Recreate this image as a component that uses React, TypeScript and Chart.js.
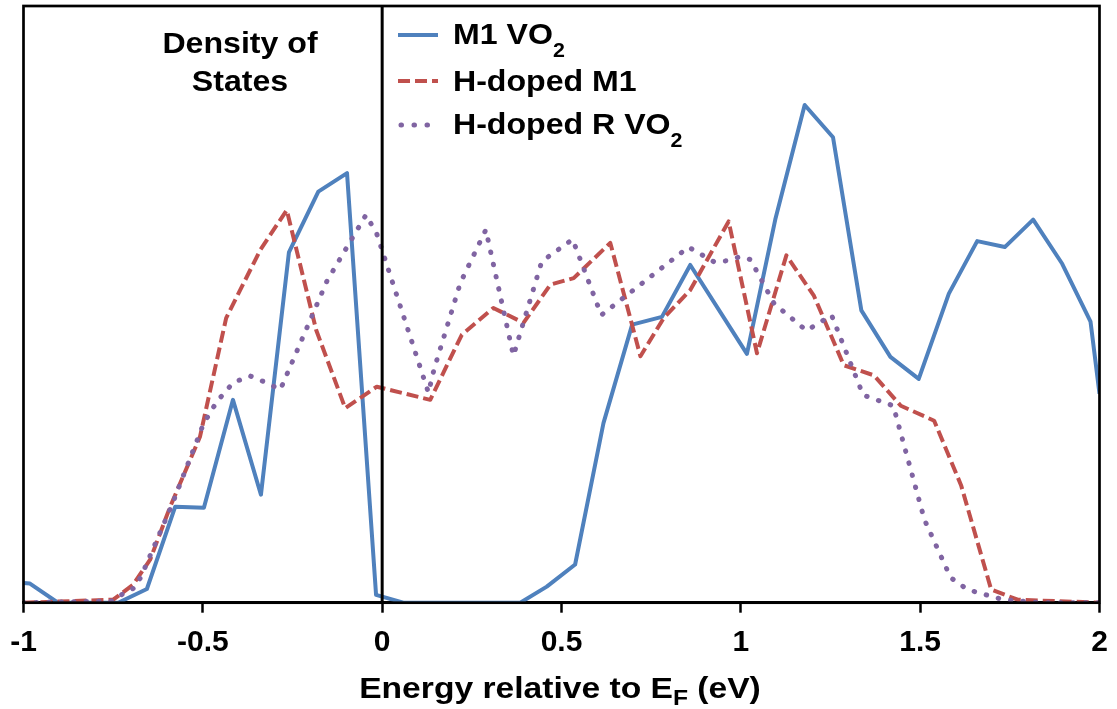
import React, { useEffect, useRef } from 'react';
import { Chart, registerables } from 'chart.js';

Chart.register(...registerables);

// Energy (eV) and density of states (arbitrary units, 0-100) for each series
const m1Energy = [-1.0, -0.982, -0.904, -0.736, -0.656, -0.577, -0.497, -0.416, -0.338, -0.26, -0.178, -0.098, -0.017, 0.059, 0.385, 0.459, 0.538, 0.617, 0.697, 0.78, 0.859, 1.017, 1.096, 1.178, 1.257, 1.336, 1.417, 1.496, 1.58, 1.659, 1.736, 1.815, 1.896, 1.975, 2.0];
const m1Dos = [3.3, 3.2, 0, 0, 2.3, 16.1, 15.9, 34.0, 18.1, 58.7, 68.9, 72.0, 1.3, 0, 0, 2.7, 6.4, 30.1, 46.6, 47.9, 56.6, 41.7, 64.2, 83.4, 78.0, 49.0, 41.2, 37.5, 51.8, 60.6, 59.6, 64.2, 56.8, 47.1, 35.0];

const hM1Energy = [-1.0, -0.75, -0.695, -0.647, -0.591, -0.508, -0.435, -0.34, -0.266, -0.184, -0.103, -0.015, 0.134, 0.222, 0.31, 0.394, 0.469, 0.534, 0.636, 0.72, 0.785, 0.859, 0.966, 1.045, 1.127, 1.204, 1.287, 1.371, 1.446, 1.539, 1.614, 1.698, 1.772, 2.0];
const hM1Dos = [0, 0.5, 3.0, 7.2, 16.1, 27.8, 47.7, 59.1, 65.8, 45.7, 32.6, 36.2, 34.0, 44.9, 49.4, 46.9, 53.3, 54.4, 60.3, 41.3, 47.7, 52.4, 63.9, 41.8, 58.2, 51.4, 39.8, 38.1, 33.0, 30.5, 19.7, 2.2, 0.5, 0];

const hREnergy = [-1.0, -0.754, -0.717, -0.69, -0.672, -0.586, -0.498, -0.461, -0.415, -0.368, -0.324, -0.284, -0.154, -0.045, -0.015, 0.129, 0.145, 0.218, 0.289, 0.366, 0.445, 0.531, 0.611, 0.854, 0.926, 0.96, 0.999, 1.027, 1.093, 1.183, 1.253, 1.341, 1.425, 1.512, 1.585, 1.632, 1.732, 1.84, 2.0];
const hRDos = [0, 0.3, 1.7, 2.5, 4.4, 16.4, 30.0, 33.7, 36.9, 38.0, 36.9, 35.7, 53.9, 65.0, 61.8, 35.2, 39.2, 53.6, 62.5, 41.4, 57.2, 60.9, 48.2, 59.6, 57.1, 57.3, 58.0, 57.5, 50.1, 45.6, 48.2, 34.8, 33.0, 13.9, 4.2, 2.2, 0.5, 0, 0];

const xTickValues = [-1, -0.5, 0, 0.5, 1, 1.5, 2];
const fermiLevel = 0;

const BLUE = '#4F81BD';
const RED = '#C0504D';
const PURPLE = '#8064A2';
const FONT = '"Liberation Sans", Arial, sans-serif';

const toPoints = (xs: number[], ys: number[]) => xs.map((x, i) => ({ x, y: ys[i] }));

const framePlugin = {
  id: 'frame',
  afterDraw(chart: any) {
    const { ctx, chartArea: a, scales } = chart;
    ctx.save();
    ctx.strokeStyle = '#000';
    // Fermi level line
    const xf = scales.x.getPixelForValue(fermiLevel);
    ctx.lineWidth = 3;
    ctx.beginPath();
    ctx.moveTo(xf, a.top);
    ctx.lineTo(xf, a.bottom);
    ctx.stroke();
    // plot frame
    ctx.lineWidth = 2.7;
    ctx.strokeRect(a.left, a.top, a.right - a.left, a.bottom - a.top);
    ctx.restore();
  },
};

export default function App() {
  const ref = useRef<HTMLCanvasElement>(null);

  useEffect(() => {
    const canvas = ref.current;
    if (!canvas) return;
    const chart = new Chart(canvas, {
      type: 'line',
      data: {
        datasets: [
          {
            label: 'M1 VO2',
            data: toPoints(m1Energy, m1Dos),
            borderColor: BLUE,
            borderWidth: 4,
            borderJoinStyle: 'round',
            pointRadius: 0,
            tension: 0,
            order: 2,
          },
          {
            label: 'H-doped M1',
            data: toPoints(hM1Energy, hM1Dos),
            borderColor: RED,
            borderWidth: 4,
            borderDash: [12, 5],
            borderJoinStyle: 'round',
            pointRadius: 0,
            tension: 0,
            order: 1,
          },
          {
            label: 'H-doped R VO2',
            data: toPoints(hREnergy, hRDos),
            borderColor: PURPLE,
            borderWidth: 5,
            borderDash: [0.5, 12],
            borderCapStyle: 'round',
            borderJoinStyle: 'round',
            pointRadius: 0,
            tension: 0,
            order: 0,
          },
        ],
      },
      options: {
        animation: false,
        responsive: false,
        maintainAspectRatio: false,
        layout: { padding: { left: 23.5, right: 17.5, top: 6, bottom: 35.3 } },
        plugins: {
          legend: { display: false },
          tooltip: { enabled: false },
        },
        scales: {
          x: {
            type: 'linear',
            min: -1,
            max: 2,
            afterBuildTicks: (scale: any) => {
              scale.ticks = xTickValues.map((v) => ({ value: v }));
            },
            afterFit: (scale: any) => {
              scale.paddingLeft = 0;
              scale.paddingRight = 0;
            },
            grid: {
              color: 'rgba(0,0,0,0)',
              tickColor: '#000',
              tickWidth: 2.5,
              tickLength: 10,
              drawTicks: true,
            },
            border: { display: true, color: '#000', width: 2.7 },
            ticks: {
              color: '#000',
              padding: 12.5,
              maxRotation: 0,
              autoSkip: false,
              font: { family: FONT, size: 30, weight: 'bold' },
              callback: (v: any) => String(v),
            },
          },
          y: {
            display: false,
            min: 0,
            max: 100,
          },
        },
      },
      plugins: [framePlugin],
    } as any);
    return () => chart.destroy();
  }, []);

  const legendRows = [
    { label: 'M1 VO', sub: '2', color: BLUE, dash: undefined, width: 4, cap: 'butt', cy: 35 },
    { label: 'H-doped M1', sub: '', color: RED, dash: '12 5', width: 4, cap: 'butt', cy: 80.5 },
    { label: 'H-doped R VO', sub: '2', color: PURPLE, dash: '0.5 12.5', width: 5, cap: 'round', cy: 125 },
  ];

  return (
    <div
      style={{
        position: 'absolute',
        left: 0,
        top: 0,
        width: 1117,
        height: 709,
        background: '#fff',
        fontFamily: FONT,
        fontWeight: 'bold',
        color: '#000',
        overflow: 'hidden',
      }}
    >
      <canvas ref={ref} width={1117} height={709} style={{ position: 'absolute', left: 0, top: 0, width: 1117, height: 709 }} />

      <div
        style={{
          position: 'absolute',
          left: 140,
          width: 200,
          top: 23.6,
          textAlign: 'center',
          fontSize: 30,
          lineHeight: '38.5px',
          transform: 'scaleX(1.07)',
          transformOrigin: 'center',
        }}
      >
        Density of
        <br />
        States
      </div>

      {legendRows.map((r) => (
        <div
          key={r.label}
          style={{
            position: 'absolute',
            left: 398,
            top: r.cy - 16,
            height: 32,
            display: 'flex',
            alignItems: 'center',
            whiteSpace: 'nowrap',
          }}
        >
          <svg width={44} height={12} style={{ display: 'block' }}>
            <line
              x1={r.dash === '0.5 12.5' ? 3 : 0}
              y1={6}
              x2={r.dash === '0.5 12.5' ? 30 : 40}
              y2={6}
              stroke={r.color}
              strokeWidth={r.width}
              strokeDasharray={r.dash}
              strokeLinecap={r.cap as any}
            />
          </svg>
          <span
            style={{
              marginLeft: 11,
              fontSize: 30,
              lineHeight: '32px',
              display: 'inline-block',
              transform: 'scaleX(1.07)',
              transformOrigin: 'left center',
            }}
          >
            {r.label}
            {r.sub ? (
              <span style={{ fontSize: 20, position: 'relative', top: 13 }}>{r.sub}</span>
            ) : null}
          </span>
        </div>
      ))}

      <div
        style={{
          position: 'absolute',
          left: 260,
          width: 600,
          top: 672.5,
          textAlign: 'center',
          fontSize: 30,
          lineHeight: '30px',
          whiteSpace: 'nowrap',
          transform: 'scaleX(1.12)',
          transformOrigin: 'center',
        }}
      >
        Energy relative to E<span style={{ fontSize: 22, position: 'relative', top: 7 }}>F</span> (eV)
      </div>
    </div>
  );
}
